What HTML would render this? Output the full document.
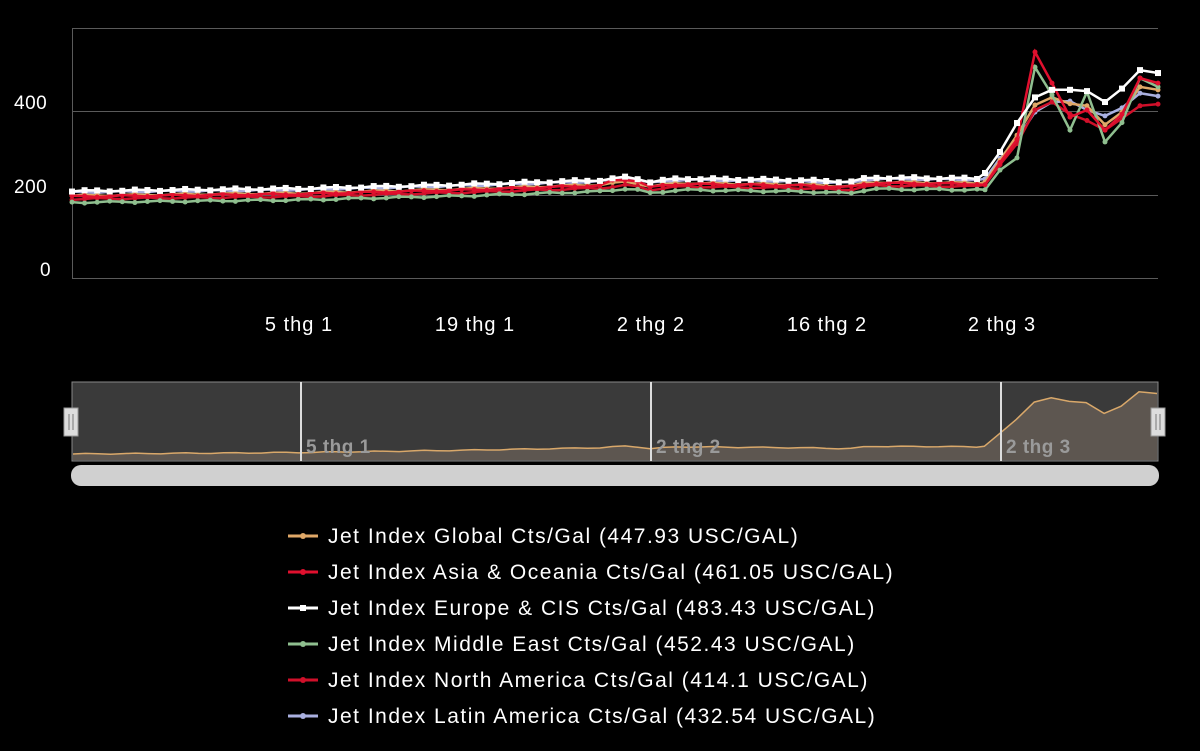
<!DOCTYPE html>
<html><head><meta charset="utf-8">
<style>
html,body{margin:0;padding:0;background:#000;width:1200px;height:751px;overflow:hidden;font-family:"Liberation Sans",sans-serif;}
svg{display:block}
</style></head><body>
<svg id="s" width="1200" height="751" xmlns="http://www.w3.org/2000/svg">
<rect x="0" y="0" width="1200" height="751" fill="#000"/>
<g stroke="#5a5a5a" stroke-width="1">
<line x1="72" y1="28.5" x2="1158" y2="28.5"/>
<line x1="72" y1="111.5" x2="1158" y2="111.5"/>
<line x1="72" y1="195.5" x2="1158" y2="195.5"/>
<line x1="72" y1="278.5" x2="1158" y2="278.5"/>
<line x1="72.5" y1="28" x2="72.5" y2="278"/>
</g>
<g fill="#fff" font-size="19" letter-spacing="0.5">
<text x="14" y="109">400</text>
<text x="14" y="193">200</text>
<text x="40" y="276">0</text>
</g>
<g fill="#fff" font-size="20" letter-spacing="1" text-anchor="middle">
<text x="299" y="331">5 thg 1</text>
<text x="475" y="331">19 thg 1</text>
<text x="651" y="331">2 thg 2</text>
<text x="827" y="331">16 thg 2</text>
<text x="1002" y="331">2 thg 3</text>
</g>
<g id="lines"></g>
<rect x="72" y="382" width="1086" height="79" fill="#3a3a3a" stroke="#888" stroke-width="1"/>
<path id="navfill" fill="#5d5650"/>
<path id="navline" fill="none" stroke="#d9a86a" stroke-width="1.5"/>
<g stroke="#ddd" stroke-width="2">
<line x1="301" y1="382" x2="301" y2="461"/>
<line x1="651" y1="382" x2="651" y2="461"/>
<line x1="1001" y1="382" x2="1001" y2="461"/>
</g>
<g fill="#9a9a9a" font-size="19" letter-spacing="0.5" font-weight="bold">
<text x="306" y="453">5 thg 1</text>
<text x="656" y="453">2 thg 2</text>
<text x="1006" y="453">2 thg 3</text>
</g>
<rect x="64" y="408" width="14" height="28" fill="#ddd" stroke="#999"/>
<line x1="69" y1="414" x2="69" y2="430" stroke="#777"/><line x1="73" y1="414" x2="73" y2="430" stroke="#777"/>
<rect x="1151" y="408" width="14" height="28" fill="#ddd" stroke="#999"/>
<line x1="1156" y1="414" x2="1156" y2="430" stroke="#777"/><line x1="1160" y1="414" x2="1160" y2="430" stroke="#777"/>
<rect x="71" y="465" width="1088" height="21" rx="10" fill="#d0d0d0"/>
<g stroke-width="3"><line x1="288" y1="536" x2="318" y2="536" stroke="#e0a868"/><line x1="288" y1="572" x2="318" y2="572" stroke="#e0102e"/><line x1="288" y1="608" x2="318" y2="608" stroke="#fff"/><line x1="288" y1="644" x2="318" y2="644" stroke="#8fbf8f"/><line x1="288" y1="680" x2="318" y2="680" stroke="#d0102a"/><line x1="288" y1="716" x2="318" y2="716" stroke="#aab0e0"/></g>
<circle cx="303" cy="536" r="3" fill="#e0a868"/><circle cx="303" cy="572" r="3" fill="#e0102e"/><rect x="300" y="605" width="6" height="6" fill="#fff"/><circle cx="303" cy="644" r="3" fill="#8fbf8f"/><circle cx="303" cy="680" r="3" fill="#d0102a"/><circle cx="303" cy="716" r="3" fill="#aab0e0"/>
<g font-size="21" fill="#fff" letter-spacing="1.5">
<text x="328" y="543">Jet Index Global Cts/Gal (447.93 USC/GAL)</text>
<text x="328" y="579">Jet Index Asia &amp; Oceania Cts/Gal (461.05 USC/GAL)</text>
<text x="328" y="615">Jet Index Europe &amp; CIS Cts/Gal (483.43 USC/GAL)</text>
<text x="328" y="651">Jet Index Middle East Cts/Gal (452.43 USC/GAL)</text>
<text x="328" y="687">Jet Index North America Cts/Gal (414.1 USC/GAL)</text>
<text x="328" y="723">Jet Index Latin America Cts/Gal (432.54 USC/GAL)</text>
</g>
</svg>
<script>
(function(){
var NS="http://www.w3.org/2000/svg";
function Y(v){return 278-v*0.42;}
var baseK=[[72,202],[300,208],[470,218],[600,228],[630,236],[650,224],[680,232],[800,228],[850,224],[870,234],[980,232]];
function base(x){for(var i=0;i<baseK.length-1;i++){var a=baseK[i],b=baseK[i+1];if(x<=b[0])return a[1]+(b[1]-a[1])*(x-a[0])/(b[0]-a[0]);}return baseK[baseK.length-1][1];}
var tailX=[985,1000,1017,1035,1052,1070,1087,1105,1122,1140,1158];
var series=[
{c:"#aab0e0",off:2,t:[236,285,330,395,419,421,400,386,405,440,433],m:"c"},
{c:"#e0a868",off:-6,t:[228,280,340,412,430,415,410,365,395,455,448],m:"c"},
{c:"#d0102a",off:-14,t:[222,270,320,400,419,390,375,352,380,410,414],m:"c"},
{c:"#8fbf8f",off:-22,t:[210,257,286,502,436,352,443,324,370,476,455],m:"c"},
{c:"#e0102e",off:-8,t:[222,275,330,538,464,383,400,352,390,476,464],m:"c"},
{c:"#ffffff",off:5,t:[250,300,369,430,448,448,445,419,451,495,488],m:"s"}
];
var g=document.getElementById("lines");
series.forEach(function(s,si){
 var pts=[];
 for(var x=72;x<980;x+=12.57){var n=Math.sin(x*0.37+si*1.7)*2;var v=base(x)+s.off+n;if(si==4&&x>600&&x<650)v+=8;pts.push([x,Y(v)]);}
 for(var i=0;i<tailX.length;i++)pts.push([tailX[i],Y(s.t[i])]);
 var p=document.createElementNS(NS,"polyline");
 p.setAttribute("points",pts.map(function(q){return q[0].toFixed(1)+","+q[1].toFixed(1)}).join(" "));
 p.setAttribute("fill","none");p.setAttribute("stroke",s.c);p.setAttribute("stroke-width","2.5");
 g.appendChild(p);
 pts.forEach(function(q){var e;if(s.m=="s"){e=document.createElementNS(NS,"rect");e.setAttribute("x",q[0]-3);e.setAttribute("y",q[1]-3);e.setAttribute("width",6);e.setAttribute("height",6);}else{e=document.createElementNS(NS,"circle");e.setAttribute("cx",q[0]);e.setAttribute("cy",q[1]);e.setAttribute("r",2.5);}e.setAttribute("fill",s.c);g.appendChild(e);});
 if(si==1){
  var d="",f="M73,460";
  pts.forEach(function(q,i){var v=(278-q[1])/0.42;var yy=501-0.24*v;var xx=73+(q[0]-72)*1084/1086;d+=(i?"L":"M")+xx.toFixed(1)+","+yy.toFixed(1);f+="L"+xx.toFixed(1)+","+yy.toFixed(1);});
  f+="L1157,460Z";
  document.getElementById("navline").setAttribute("d",d);
  document.getElementById("navfill").setAttribute("d",f);
 }
});
})();
</script>
</body></html>
